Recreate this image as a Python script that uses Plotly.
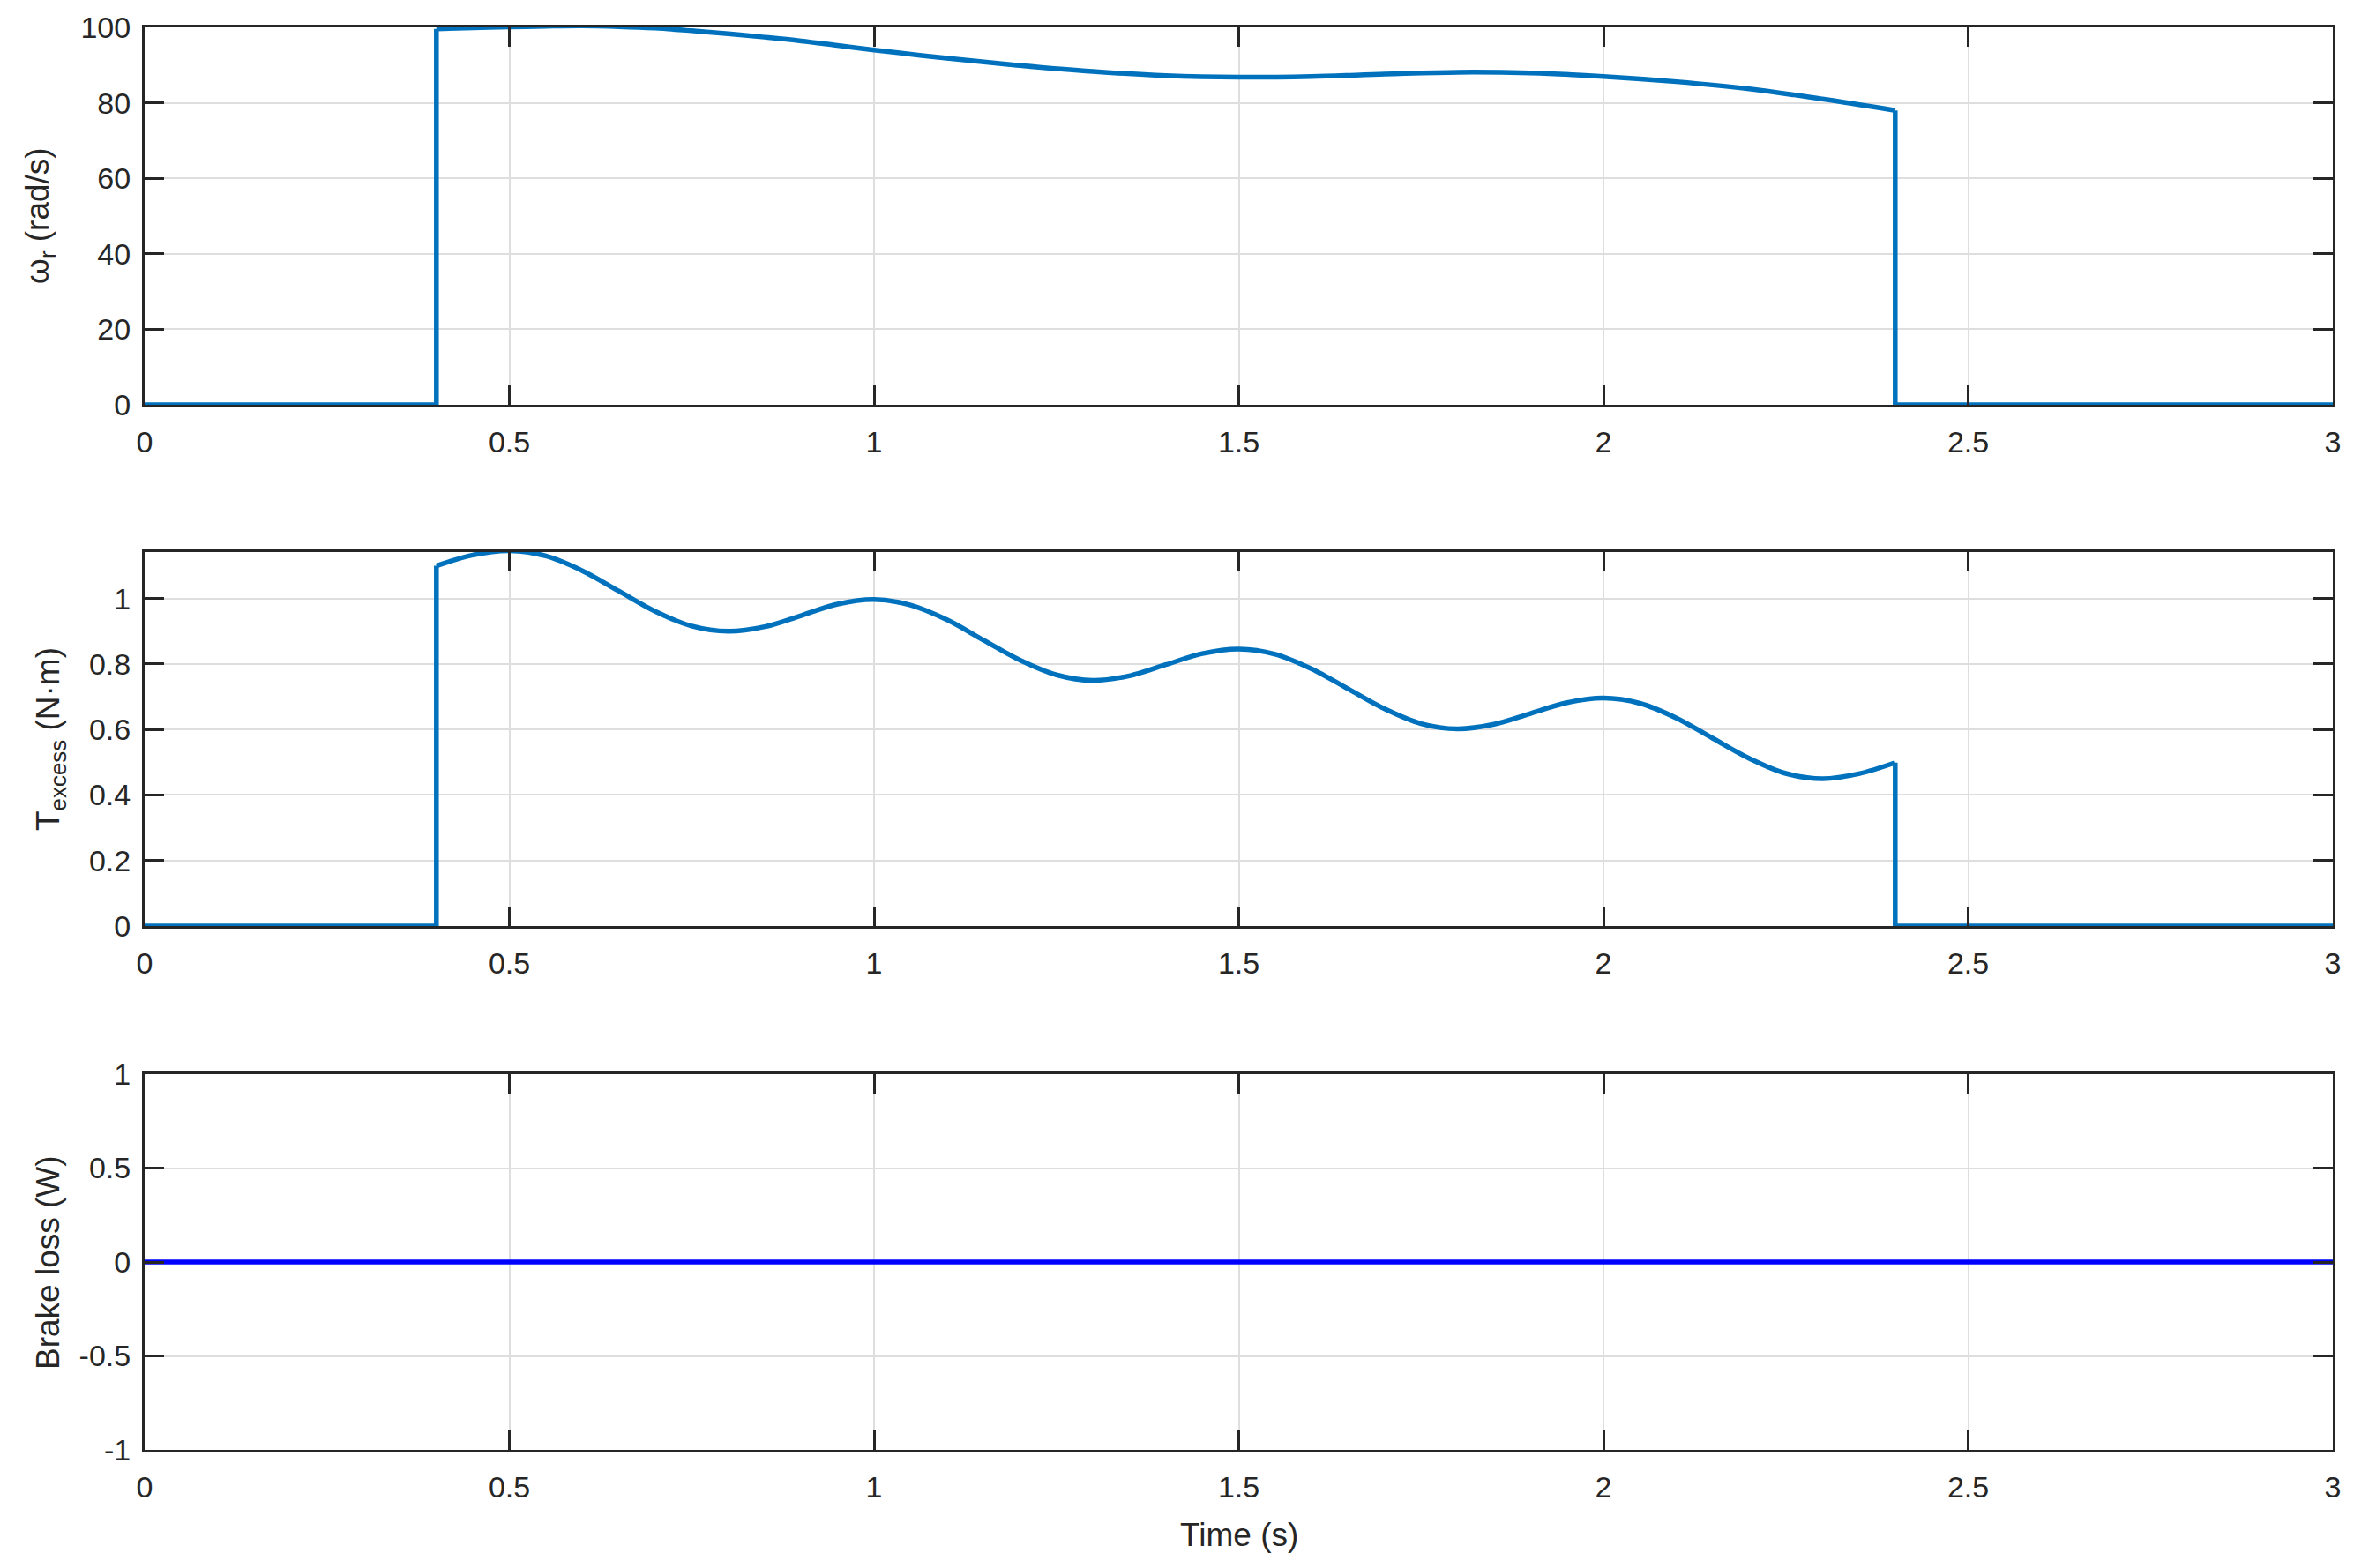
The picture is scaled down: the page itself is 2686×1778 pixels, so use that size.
import plotly.graph_objects as go

# ---------------- data ----------------
t_end = 3.0

# rotor speed omega_r (rad/s) while running
t_speed = [0.40, 0.45, 0.50, 0.55, 0.60, 0.65, 0.70, 0.75, 0.80, 0.85, 0.90, 0.95,
           1.00, 1.10, 1.20, 1.30, 1.40, 1.50, 1.60, 1.70, 1.80, 1.90, 2.00, 2.10,
           2.20, 2.30, 2.40]
speed = [99.6, 99.9, 100.1, 100.3, 100.4, 100.2, 99.8, 99.1, 98.3, 97.4, 96.4, 95.2,
         94.0, 91.8, 89.9, 88.3, 87.2, 86.8, 87.0, 87.6, 88.1, 87.9, 87.0, 85.6,
         83.7, 81.0, 78.0]

# excess torque (N.m) while running
t_torque = [0.40, 0.45, 0.50, 0.55, 0.60, 0.65, 0.70, 0.75, 0.80, 0.85, 0.90, 0.95,
            1.00, 1.05, 1.10, 1.15, 1.20, 1.25, 1.30, 1.35, 1.40, 1.45, 1.50, 1.55,
            1.60, 1.65, 1.70, 1.75, 1.80, 1.85, 1.90, 1.95, 2.00, 2.05, 2.10, 2.15,
            2.20, 2.25, 2.30, 2.35, 2.40]
torque = [1.100, 1.133, 1.146, 1.130, 1.085, 1.023, 0.961, 0.916, 0.900, 0.914, 0.948, 0.983,
          0.997, 0.980, 0.935, 0.873, 0.812, 0.767, 0.750, 0.764, 0.798, 0.832, 0.846, 0.830,
          0.785, 0.724, 0.663, 0.618, 0.602, 0.616, 0.649, 0.682, 0.696, 0.680, 0.635, 0.573,
          0.512, 0.466, 0.450, 0.465, 0.499]

# brake loss (W)
t_brake = [0.0, 3.0]
brake = [0.0, 0.0]

x_ticks = [0, 0.5, 1, 1.5, 2, 2.5, 3]
x_tick_labels = ["0", "0.5", "1", "1.5", "2", "2.5", "3"]
y1_ticks = [0, 20, 40, 60, 80, 100]
y2_ticks = [0, 0.2, 0.4, 0.6, 0.8, 1]
y2_tick_labels = ["0", "0.2", "0.4", "0.6", "0.8", "1"]
y3_ticks = [-1, -0.5, 0, 0.5, 1]
y3_tick_labels = ["-1", "-0.5", "0", "0.5", "1"]

# ---------------- styling ----------------
C_LINE = "#0072BD"
C_BRAKE = "#0000FF"
AX = "#262626"
GRID = "#dedede"
FONT = "Liberation Sans, Arial, sans-serif"
LW = 5.5

fig = go.Figure()


def add_step_curve(tt, vv, xa, ya):
    # off segment before start, including the vertical jump
    fig.add_trace(go.Scatter(x=[0.0, tt[0], tt[0]], y=[0.0, 0.0, vv[0]],
                             mode="lines", line=dict(color=C_LINE, width=LW, shape="linear"),
                             xaxis=xa, yaxis=ya, showlegend=False))
    # running segment
    fig.add_trace(go.Scatter(x=tt, y=vv, mode="lines",
                             line=dict(color=C_LINE, width=LW, shape="spline", smoothing=1.0),
                             xaxis=xa, yaxis=ya, showlegend=False))
    # drop and off segment after stop
    fig.add_trace(go.Scatter(x=[tt[-1], tt[-1], t_end], y=[vv[-1], 0.0, 0.0],
                             mode="lines", line=dict(color=C_LINE, width=LW, shape="linear"),
                             xaxis=xa, yaxis=ya, showlegend=False))


add_step_curve(t_speed, speed, "x", "y")
add_step_curve(t_torque, torque, "x2", "y2")
fig.add_trace(go.Scatter(x=t_brake, y=brake, mode="lines",
                         line=dict(color=C_BRAKE, width=LW),
                         xaxis="x3", yaxis="y3", showlegend=False))

W, H = 2686, 1778
ML, MR, MT, MB = 164, 41, 31, 134
PH = H - MT - MB


def dom(top_px, bot_px):
    return [(H - MB - bot_px) / PH, (H - MB - top_px) / PH]


common_x = dict(range=[0, 3], tickvals=x_ticks, ticktext=x_tick_labels,
                showline=True, linecolor=AX, linewidth=3, mirror="ticks",
                ticks="inside", ticklen=22, tickwidth=2.5, tickcolor=AX,
                showgrid=True, gridcolor=GRID, gridwidth=2, zeroline=False,
                ticklabelstandoff=10,
                tickfont=dict(family=FONT, size=34, color=AX), domain=[0, 1])
common_y = dict(showline=True, linecolor=AX, linewidth=3, mirror="ticks",
                ticks="inside", ticklen=22, tickwidth=2.5, tickcolor=AX,
                showgrid=True, gridcolor=GRID, gridwidth=2, zeroline=False,
                ticklabelstandoff=6,
                tickfont=dict(family=FONT, size=34, color=AX))

fig.update_layout(
    width=W, height=H,
    margin=dict(l=ML, r=MR, t=MT, b=MB),
    paper_bgcolor="white", plot_bgcolor="white",
    font=dict(family=FONT, color=AX),
    xaxis=dict(common_x, anchor="y"),
    xaxis2=dict(common_x, anchor="y2"),
    xaxis3=dict(common_x, anchor="y3"),
    yaxis=dict(common_y, range=[0, 100], tickvals=y1_ticks, domain=dom(31, 459), anchor="x"),
    yaxis2=dict(common_y, range=[0, 1.142], tickvals=y2_ticks, ticktext=y2_tick_labels,
                domain=dom(626, 1050), anchor="x2"),
    yaxis3=dict(common_y, range=[-1, 1], tickvals=y3_ticks, ticktext=y3_tick_labels,
                domain=dom(1218, 1644), anchor="x3"),
)


def px_to_paper_x(px):
    return (px - ML) / (W - ML - MR)


def px_to_paper_y(py):
    return (H - MB - py) / PH


title_font = dict(family=FONT, size=37, color=AX)
fig.add_annotation(text="ω<sub>r</sub> (rad/s)", x=px_to_paper_x(45), y=px_to_paper_y(245),
                   xref="paper", yref="paper", textangle=-90, showarrow=False,
                   xanchor="center", yanchor="middle", font=title_font)
fig.add_annotation(text="T<sub>excess</sub> (N·m)", x=px_to_paper_x(57), y=px_to_paper_y(838),
                   xref="paper", yref="paper", textangle=-90, showarrow=False,
                   xanchor="center", yanchor="middle", font=title_font)
fig.add_annotation(text="Brake loss (W)", x=px_to_paper_x(54), y=px_to_paper_y(1431),
                   xref="paper", yref="paper", textangle=-90, showarrow=False,
                   xanchor="center", yanchor="middle", font=title_font)
fig.add_annotation(text="Time (s)", x=0.5, y=px_to_paper_y(1740),
                   xref="paper", yref="paper", showarrow=False,
                   xanchor="center", yanchor="middle", font=title_font)

fig.write_html("out.html")
